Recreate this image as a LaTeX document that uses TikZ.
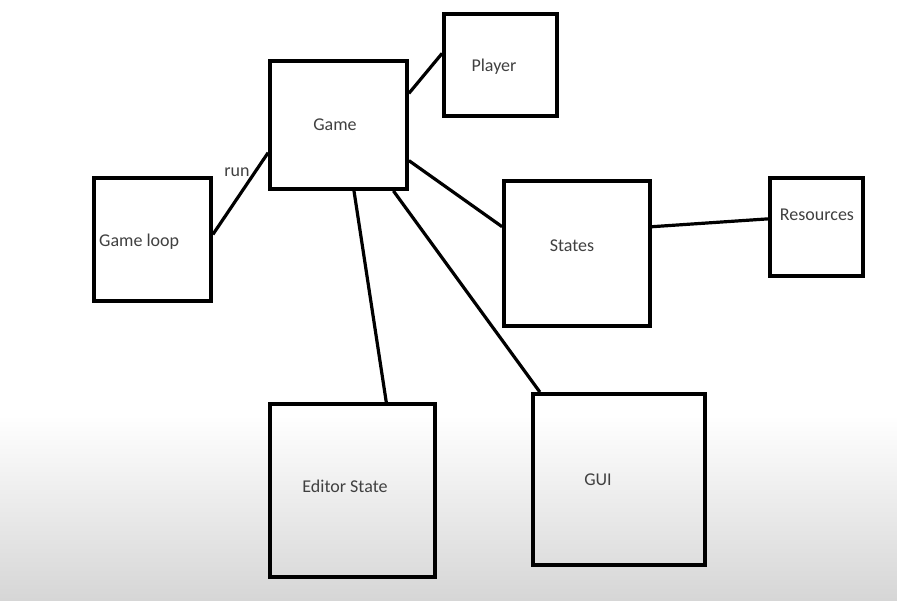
\documentclass[tikz,border=0pt]{standalone}
\usepackage{fontspec}
\setmainfont{Carlito}
\usetikzlibrary{calc}
\definecolor{bgbottom}{RGB}{214,214,214}
\definecolor{txt}{RGB}{64,64,64}
\tikzset{
  box/.style={draw=black, line width=3.8pt, fill=none, inner sep=0pt},
  lbl/.style={text=txt, font=\fontsize{18}{21}\selectfont, inner sep=0pt},
  conn/.style={draw=black, line width=3.2pt},
}
\begin{document}
\begin{tikzpicture}[x=1pt,y=-1pt]
\useasboundingbox (0,0) rectangle (897,600);
\fill[white] (0,0) rectangle (897,600);
\shade[top color=white, bottom color=bgbottom] (0,415) rectangle (897,600);
% boxes
\node[box, minimum width=137pt, minimum height=128pt] (game) at (338.5,125) {};
\node[box, minimum width=113pt, minimum height=102pt] (player) at (500.5,65) {};
\node[box, minimum width=117pt, minimum height=123pt] (loop) at (152.5,239.5) {};
\node[box, minimum width=146pt, minimum height=145pt] (states) at (577,253.5) {};
\node[box, minimum width=93pt, minimum height=98pt] (res) at (816.5,227) {};
\node[box, minimum width=165pt, minimum height=173pt] (editor) at (352.5,490.5) {};
\node[box, minimum width=172pt, minimum height=171pt] (gui) at (619,479.5) {};
% labels
\node[lbl] (gameT) at (335,125) {Game};
\node[lbl] (playerT) at (494,67) {Player};
\node[lbl, anchor=west] (loopT) at (99,242) {Game loop};
\node[lbl] (statesT) at (572,246) {States};
\node[lbl] (resT) at (817,215) {Resources};
\node[lbl] (editorT) at (345,486) {Editor State};
\node[lbl] (guiT) at (598,480) {GUI};
\node[lbl] (runT) at (237,172) {run};
% connectors
\draw[conn] ($(loop.north east)!0.46!(loop.south east)$) -- ($(game.north west)!0.71!(game.south west)$);
\draw[conn] ($(game.north east)!0.26!(game.south east)$) -- ($(player.north west)!0.39!(player.south west)$);
\draw[conn] ($(game.north east)!0.77!(game.south east)$) -- ($(states.north west)!0.32!(states.south west)$);
\draw[conn] ($(states.north east)!0.32!(states.south east)$) -- ($(res.north west)!0.42!(res.south west)$);
\draw[conn] ($(game.south west)!0.61!(game.south east)$) -- ($(editor.north west)!0.70!(editor.north east)$);
\draw[conn] ($(game.south west)!0.89!(game.south east)$) -- ($(gui.north west)!0.05!(gui.north east)$);
\end{tikzpicture}
\end{document}
